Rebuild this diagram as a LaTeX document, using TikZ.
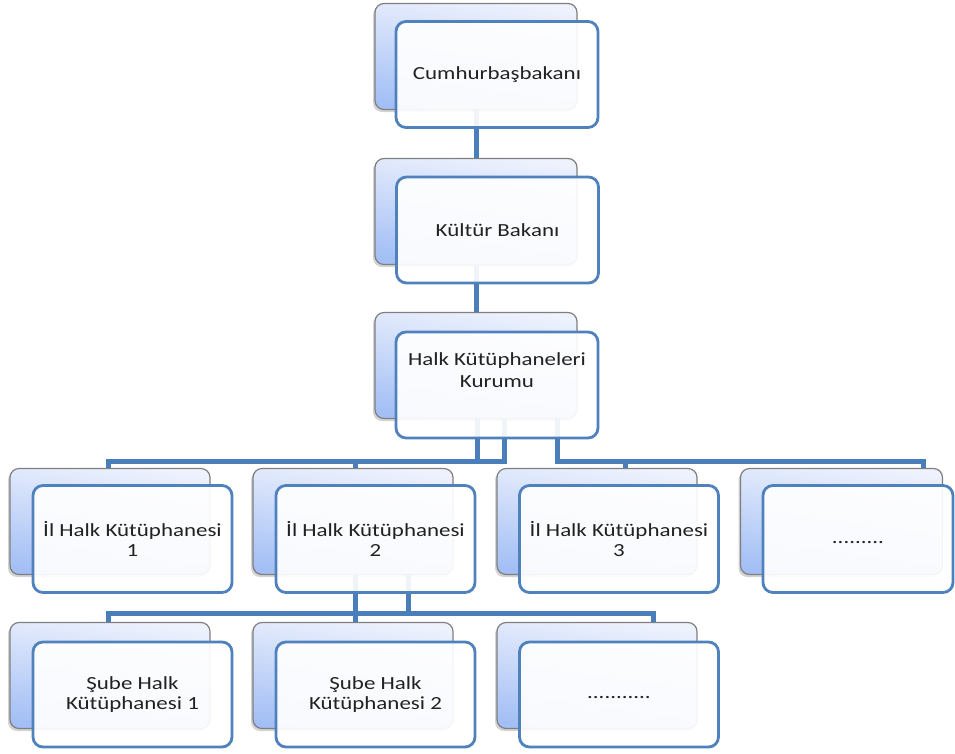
\documentclass[tikz,border=0pt]{standalone}
\usepackage{fontspec}
\setmainfont{Carlito}[FakeStretch=1.24]
\usetikzlibrary{shadows}
\definecolor{connc}{HTML}{4A7EBB}
\definecolor{frontbd}{HTML}{4F81BD}
\definecolor{backbd}{HTML}{7F7F7F}
\definecolor{backtop}{HTML}{EEF2FD}
\definecolor{backbot}{HTML}{A3BFF5}
\definecolor{txtc}{HTML}{222222}
\begin{document}
\begin{tikzpicture}[x=1pt,y=-1pt,
  backbox/.style={draw=backbd, line width=1.2pt, rounded corners=9pt, inner sep=0pt,
    top color=backtop, bottom color=backbot, shading angle=-8,
    drop shadow={shadow xshift=-2pt, shadow yshift=-2.5pt, opacity=0.35}},
  frontbox/.style={draw=frontbd, line width=2.8pt, rounded corners=10pt, inner sep=0pt,
    fill=white, fill opacity=0.92, text opacity=1, text=txtc, align=center,
    font=\fontsize{18.5}{20}\selectfont},
  labeltext/.style={text=txtc, align=center, font=\fontsize{18.5}{22}\selectfont, inner sep=0pt},
  connector/.style={draw=connc, line width=5pt},
  lvtop/.style={minimum width=202pt, minimum height=106pt},
  lvlow/.style={minimum width=200pt, minimum height=106pt},
  lvlowf/.style={minimum width=199pt, minimum height=107pt},
]
\useasboundingbox (0,0) rectangle (955,753);

% back boxes
\node[backbox, lvtop] (b1) at (476,56.5) {};
\node[backbox, lvtop] (b2) at (476,211.5) {};
\node[backbox, lvtop] (b3) at (476,365.5) {};
\node[backbox, lvlow] (b41) at (110,521.5) {};
\node[backbox, lvlow] (b42) at (353,521.5) {};
\node[backbox, lvlow] (b43) at (597,521.5) {};
\node[backbox, lvlow, minimum width=202pt] (b44) at (841.5,521.5) {};
\node[backbox, lvlow] (b51) at (110,675.5) {};
\node[backbox, lvlow] (b52) at (353,675.5) {};
\node[backbox, lvlow] (b53) at (597,675.5) {};

% bus levels
\coordinate (busA) at (0,461);
\coordinate (busB) at (0,613);

% connectors
\draw[connector] (b1.south) -- (b2.north);
\draw[connector] (b2.south) -- (b3.north);
\draw[connector] ([xshift=1pt]b3.south) -- ([xshift=1pt]b3.south |- busA) -| ([xshift=-2pt]b41.north);
\draw[connector] ([xshift=28pt]b3.south) -- ([xshift=28pt]b3.south |- busA) -| ([xshift=2pt]b42.north);
\draw[connector] ([xshift=81pt]b3.south) -- ([xshift=81pt]b3.south |- busA) -| ([xshift=28pt]b43.north);
\draw[connector] ([xshift=81pt]b3.south |- busA) -| ([xshift=81.5pt]b44.north);
\draw[connector] ([xshift=2pt]b42.south) -- ([xshift=2pt]b52.north);
\draw[connector] ([xshift=55pt]b42.south) -- ([xshift=55pt]b42.south |- busB) -| ([xshift=-2pt]b51.north);
\draw[connector] ([xshift=55pt]b42.south |- busB) -| ([xshift=56pt]b53.north);

% front boxes
\node[frontbox, lvtop] (f1) at (497,74.5) {Cumhurbaşbakanı};
\node[frontbox, lvtop] (f2) at (497.5,230) {Kültür Bakanı};
\node[frontbox, lvtop] (f3) at (497,385) {};
\node[labeltext] (t3) at (497,370) {Halk Kütüphaneleri\\Kurumu};
\node[frontbox, lvlowf] (f41) at (132.5,539) {İl Halk Kütüphanesi\\1};
\node[frontbox, lvlowf] (f42) at (375.5,539) {İl Halk Kütüphanesi\\2};
\node[frontbox, lvlowf] (f43) at (619,539) {İl Halk Kütüphanesi\\3};
\node[frontbox, lvlowf, minimum width=190pt] (f44) at (858,539) {\vphantom{Ay}.........};
\node[frontbox, lvlowf, minimum height=105pt] (f51) at (132.5,694.5) {Şube Halk\\Kütüphanesi 1};
\node[frontbox, lvlowf, minimum height=105pt] (f52) at (375.5,694.5) {Şube Halk\\Kütüphanesi 2};
\node[frontbox, lvlowf, minimum height=105pt] (f53) at (619,694.5) {\vphantom{Ay}...........};
\end{tikzpicture}
\end{document}
